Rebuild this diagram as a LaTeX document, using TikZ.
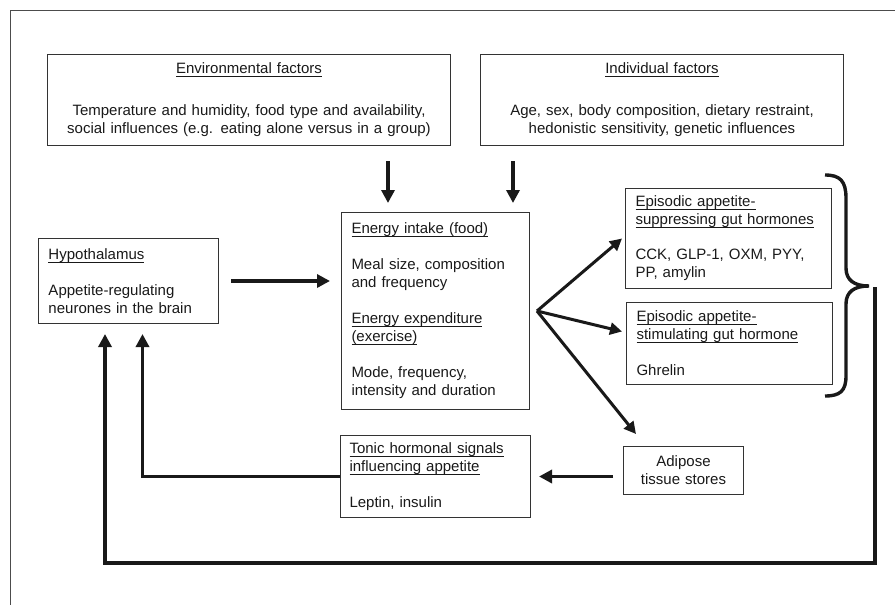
\documentclass[tikz,border=0pt]{standalone}
\usepackage{fontspec}
\setmainfont{Liberation Sans}
\usetikzlibrary{arrows.meta}
\newcommand{\uln}[1]{\leavevmode\setbox0\hbox{#1}\rlap{\rule[-3.6pt]{\wd0}{1.1pt}}\box0}

\begin{document}
\begin{tikzpicture}[x=1pt, y=-1pt,
    box/.style={draw=black!80, line width=1pt, anchor=north west, inner sep=0pt,
        align=left, font=\fontsize{15}{18}\selectfont, text=black!90},
    flow/.style={line width=3.4pt, black!90, -{Triangle[length=13pt, width=13pt]}},
    fan/.style={line width=3pt, black!90, -{Triangle[length=12pt, width=12pt]}}]

    \useasboundingbox (0,0) rectangle (895,605);
    % Outer frame (only top and left edges)
    \draw[black!70, line width=1pt] (10,605) -- (10,10) -- (895,10);

    % Factor boxes
    \node[box, align=center, minimum width=403pt, minimum height=91pt, text width=390pt] (env) at (47,54)
        {\uln{Environmental factors}\\[24pt]Temperature and humidity, food type and availability,\\social influences (e.g. eating alone versus in a group)};
    \node[box, align=center, minimum width=363pt, minimum height=91pt, text width=350pt] (indiv) at (480,54)
        {\uln{Individual factors}\\[24pt]Age, sex, body composition, dietary restraint,\\hedonistic sensitivity, genetic influences};

    % Hypothalamus
    \node[box, minimum width=180pt, minimum height=85pt, text width=160pt] (hyp) at (38,238)
        {\uln{Hypothalamus}\\[18pt]Appetite-regulating\\neurones in the brain};

    % Energy balance
    \node[box, minimum width=188pt, minimum height=197pt, text width=168pt] (energy) at (341,212)
        {\uln{Energy intake (food)}\\[18pt]Meal size, composition\\and frequency\\[18pt]\uln{Energy expenditure}\\\uln{(exercise)}\\[18pt]Mode, frequency,\\intensity and duration};

    % Gut hormones
    \node[box, minimum width=206pt, minimum height=100pt, text width=186pt] (supp) at (625,188)
        {\uln{Episodic appetite-}\\\uln{suppressing gut hormones}\\[17pt]CCK, GLP-1, OXM, PYY,\\PP, amylin};
    \node[box, minimum width=206pt, minimum height=82pt, text width=186pt] (stim) at (626,302)
        {\uln{Episodic appetite-}\\\uln{stimulating gut hormone}\\[18pt]Ghrelin};

    % Adipose and tonic signals
    \node[box, align=center, minimum width=120pt, minimum height=48pt, text width=110pt] (adip) at (623,446)
        {Adipose\\tissue stores};
    \node[box, minimum width=190pt, minimum height=82pt, text width=172pt] (tonic) at (340,435)
        {\uln{Tonic hormonal signals}\\\uln{influencing appetite}\\[18pt]Leptin, insulin};

    % Brace round the gut hormones
    \draw[black!90, line width=3.4pt] (825,175) .. controls (840,175) and (846,181) .. (846,198)
        -- (846,268) .. controls (846,280) and (854,286) .. (869,286)
        .. controls (854,286) and (846,292) .. (846,304)
        -- (846,376) .. controls (846,391) and (840,396) .. (825,396);

    % Connection points
    \coordinate (envin) at (388,203);
    \coordinate (indin) at (513,203);
    \coordinate (fan) at (537,311);
    \coordinate (bracetip) at (875,289);
    \coordinate (loopbase) at (105,563);

    % Arrows
    \draw[flow] ([yshift=-15pt]env.south -| envin) -- (envin);
    \draw[flow] ([yshift=-15pt]indiv.south -| indin) -- (indin);
    \draw[flow] ([xshift=12pt]hyp.east) -- ([xshift=-11pt]energy.west |- hyp.east);
    \draw[fan] (fan) -- ([xshift=-3pt]supp.west);
    \draw[fan] (fan) -- ([xshift=-4pt,yshift=12pt]stim.west);
    \draw[fan] (fan) -- ([xshift=13pt,yshift=12pt]adip.north west);
    \draw[flow] ([xshift=-10pt]adip.west |- tonic.east) -- ([xshift=8pt]tonic.east);
    \draw[flow] (tonic.west) -| ([xshift=14pt,yshift=-10pt]hyp.south);

    % Feedback loop
    \draw[flow, line cap=rect] (bracetip) |- (loopbase) -- ([yshift=-10pt]hyp.south -| loopbase);

\end{tikzpicture}
\end{document}
